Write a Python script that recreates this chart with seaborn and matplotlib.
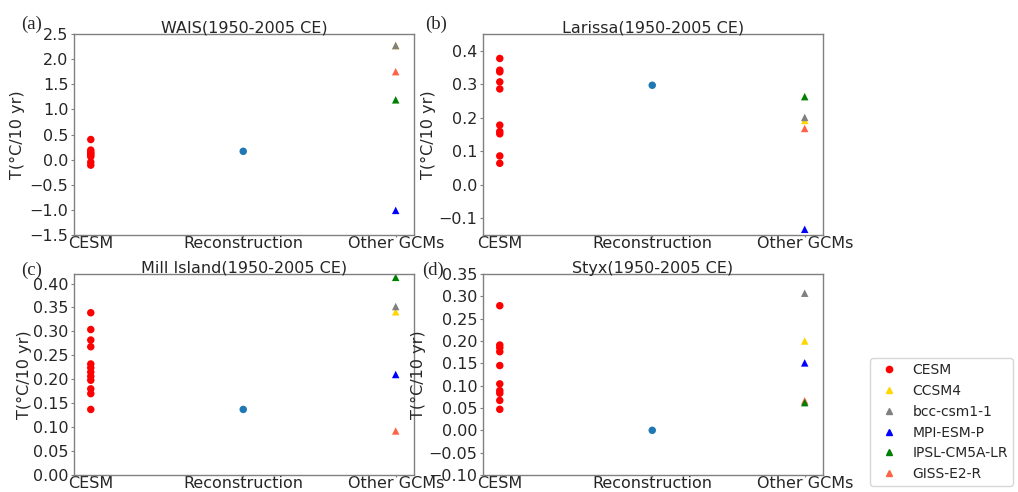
import numpy as np
import pandas as pd
import matplotlib.pyplot as plt
import seaborn as sns
from matplotlib.lines import Line2D

# x categories
groups = ["CESM", "Reconstruction", "Other GCMs"]
gcm_names = ["CCSM4", "bcc-csm1-1", "MPI-ESM-P", "IPSL-CM5A-LR", "GISS-E2-R"]
gcm_colors = ["gold", "grey", "blue", "green", "tomato"]

# panel (a) WAIS
wais_cesm = [0.40, 0.19, 0.15, 0.12, 0.09, 0.06, -0.05, -0.11]
wais_rec = 0.165
wais_gcm = [2.27, 2.27, -1.01, 1.19, 1.75]

# panel (b) Larissa
lar_cesm = [0.377, 0.342, 0.337, 0.307, 0.286, 0.178, 0.159, 0.152, 0.086, 0.064]
lar_rec = 0.297
lar_gcm = [0.192, 0.201, -0.133, 0.263, 0.168]

# panel (c) Mill Island
mill_cesm = [0.339, 0.304, 0.282, 0.268, 0.232, 0.224, 0.215, 0.206, 0.198, 0.180, 0.170, 0.137]
mill_rec = 0.137
mill_gcm = [0.341, 0.352, 0.210, 0.413, 0.092]

# panel (d) Styx
styx_cesm = [0.279, 0.191, 0.185, 0.176, 0.145, 0.104, 0.089, 0.083, 0.067, 0.047]
styx_rec = 0.0
styx_gcm = [0.200, 0.307, 0.151, 0.062, 0.066]

panels = [
    ("(a)", "WAIS(1950-2005 CE)", wais_cesm, wais_rec, wais_gcm, (-1.5, 2.5), np.arange(-1.5, 2.51, 0.5), "%.1f", -0.144, (-0.126, 1.047)),
    ("(b)", "Larissa(1950-2005 CE)", lar_cesm, lar_rec, lar_gcm, (-0.15, 0.45), np.arange(-0.1, 0.41, 0.1), "%.1f", -0.138, (-0.138, 1.047)),
    ("(c)", "Mill Island(1950-2005 CE)", mill_cesm, mill_rec, mill_gcm, (0.0, 0.42), np.arange(0.0, 0.41, 0.05), "%.2f", -0.124, (-0.126, 1.02)),
    ("(d)", "Styx(1950-2005 CE)", styx_cesm, styx_rec, styx_gcm, (-0.1, 0.35), np.arange(-0.1, 0.351, 0.05), "%.2f", -0.168, (-0.147, 1.02)),
]

sns.set_style("white")
plt.rcParams['font.family'] = ['DejaVu Sans']
fs = 11.5

fig, axes = plt.subplots(2, 2, figsize=(10.18, 4.92), dpi=100)
plt.subplots_adjust(left=74/1018, right=823/1018, bottom=17/492, top=1-34/492,
                    wspace=0.203, hspace=0.194)

# draw order: GISS before IPSL so green sits on top
draw_order = [0, 1, 2, 4, 3]

for ax, (tag, title, cesm, rec, gcm, ylim, yticks, fmt, labx, tagpos) in zip(axes.flat, panels):
    rows = []
    for v in cesm:
        rows.append(("CESM", "CESM", v))
    rows.append(("Reconstruction", "Reconstruction", rec))
    for i in draw_order:
        rows.append(("Other GCMs", gcm_names[i], gcm[i]))
    df = pd.DataFrame(rows, columns=["group", "model", "value"])

    pal = {"CESM": "red", "Reconstruction": "#1f77b4"}
    mk = {"CESM": "o", "Reconstruction": "o"}
    for n, c in zip(gcm_names, gcm_colors):
        pal[n] = c
        mk[n] = "^"
    sns.scatterplot(data=df, x="group", y="value", hue="model", style="model",
                    palette=pal, markers=mk, s=29, linewidth=0, legend=False, ax=ax)

    ax.set_xlim(-0.11, 2.12)
    ax.set_ylim(*ylim)
    ax.set_yticks(yticks)
    ax.set_yticklabels([(fmt % t).replace("-", "\u2212") for t in yticks])
    ax.set_xticks([0, 1, 2])
    ax.set_xticklabels(groups)
    ax.tick_params(labelsize=fs, color="grey", left=True, bottom=True)
    ax.tick_params(axis="y", length=2.5, pad=1.5)
    ax.tick_params(axis="x", length=1.5, pad=-0.5)
    ax.set_xlabel("")
    ax.set_ylabel("T(°C/10 yr)", fontsize=fs)
    ax.yaxis.set_label_coords(labx, 0.5)
    ax.set_title(title, fontsize=fs, pad=1)
    for sp in ax.spines.values():
        sp.set_color("grey")
        sp.set_linewidth(1.0)
    ax.text(tagpos[0], tagpos[1], tag, transform=ax.transAxes, fontsize=13.5,
            family="Liberation Serif", ha="center", va="center")

handles = [Line2D([], [], marker="o", linestyle="", color="red", markersize=4.5)]
for c in gcm_colors:
    handles.append(Line2D([], [], marker="^", linestyle="", color=c, markersize=4.5))
labels = ["CESM"] + gcm_names
fig.legend(handles, labels, loc="lower left", bbox_to_anchor=(870/1018, 6/492),
           borderaxespad=0, fontsize=10, frameon=True, handlelength=2.0,
           handletextpad=0.7, labelspacing=0.49, borderpad=0.35)

plt.savefig("out.png", dpi=100)
